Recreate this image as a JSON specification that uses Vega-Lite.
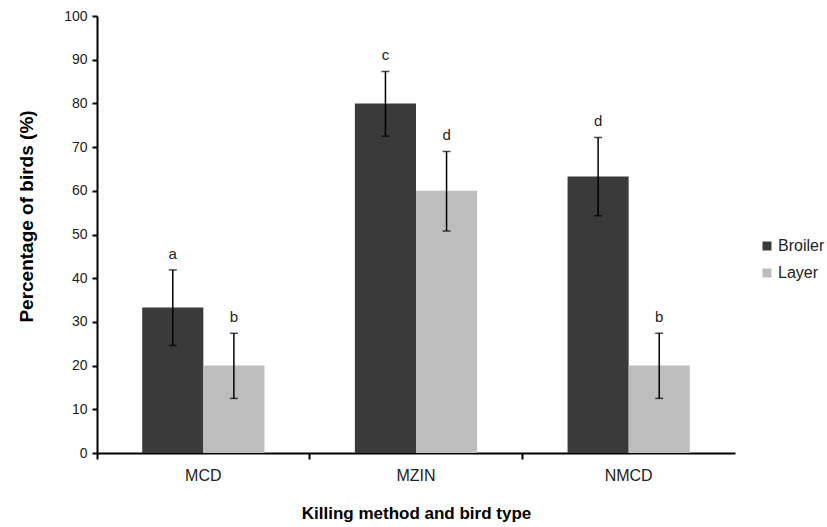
{
  "$schema": "https://vega.github.io/schema/vega-lite/v6.json",
  "width": 638,
  "height": 437,
  "autosize": {"type": "none"},
  "padding": {"left": 97, "top": 16, "right": 92, "bottom": 74},
  "background": "white",
  "config": {
    "view": {"stroke": null},
    "font": "Liberation Sans",
    "axis": {"labelFont": "Liberation Sans", "titleFont": "Liberation Sans", "labelColor": "#222", "titleColor": "#000", "domainColor": "#000", "tickColor": "#000", "grid": false}
  },
  "data": {
    "values": [
      {"method": "MCD", "type": "Broiler", "value": 33.3, "lo": 24.6, "hi": 41.9, "letter": "a"},
      {"method": "MCD", "type": "Layer", "value": 20, "lo": 12.5, "hi": 27.4, "letter": "b"},
      {"method": "MZIN", "type": "Broiler", "value": 80, "lo": 72.5, "hi": 87.3, "letter": "c"},
      {"method": "MZIN", "type": "Layer", "value": 60, "lo": 50.8, "hi": 69, "letter": "d"},
      {"method": "NMCD", "type": "Broiler", "value": 63.3, "lo": 54.3, "hi": 72.2, "letter": "d"},
      {"method": "NMCD", "type": "Layer", "value": 20, "lo": 12.5, "hi": 27.4, "letter": "b"}
    ]
  },
  "encoding": {
    "x": {
      "field": "method", "type": "nominal",
      "scale": {"paddingInner": 0, "paddingOuter": 0},
      "axis": {
        "title": "Killing method and bird type", "titleFontSize": 17, "titleFontWeight": "bold", "titlePadding": 22,
        "labelAngle": 0, "labelFontSize": 16, "labelPadding": 8,
        "domainWidth": 2, "tickWidth": 2, "tickSize": 6, "bandPosition": 0, "labelOffset": 0
      }
    },
    "xOffset": {"field": "type", "type": "nominal", "scale": {"paddingOuter": 0.74, "paddingInner": 0}}
  },
  "layer": [
    {
      "mark": {"type": "bar"},
      "encoding": {
        "y": {
          "field": "value", "type": "quantitative",
          "scale": {"domain": [0, 100]},
          "axis": {"title": "Percentage of birds (%)", "titleFontSize": 19, "titleFontWeight": "bold", "titlePadding": 27, "titleY": 200,
                   "values": [0, 10, 20, 30, 40, 50, 60, 70, 80, 90, 100], "labelFontSize": 14, "labelPadding": 5,
                   "domainWidth": 2, "tickWidth": 2, "tickSize": 5}
        },
        "color": {
          "field": "type", "type": "nominal",
          "scale": {"domain": ["Broiler", "Layer"], "range": ["#3a3a3a", "#bdbdbd"]},
          "legend": {"title": null, "orient": "none", "legendX": 662, "legendY": 222, "symbolType": "square", "symbolSize": 81, "symbolStrokeWidth": 0, "labelFontSize": 16, "labelFont": "Liberation Sans", "labelColor": "#222", "rowPadding": 11, "labelOffset": 3}
        }
      }
    },
    {
      "mark": {"type": "rule", "color": "#000", "strokeWidth": 1.5},
      "encoding": {"y": {"field": "lo", "type": "quantitative"}, "y2": {"field": "hi"}}
    },
    {
      "mark": {"type": "tick", "color": "#000", "thickness": 1.5, "size": 8, "orient": "horizontal"},
      "encoding": {"y": {"field": "lo", "type": "quantitative"}}
    },
    {
      "mark": {"type": "tick", "color": "#000", "thickness": 1.5, "size": 8, "orient": "horizontal"},
      "encoding": {"y": {"field": "hi", "type": "quantitative"}}
    },
    {
      "mark": {"type": "text", "fontSize": 15, "color": "#222", "baseline": "bottom", "dy": -8},
      "encoding": {"y": {"field": "hi", "type": "quantitative"}, "text": {"field": "letter"}}
    }
  ]
}
